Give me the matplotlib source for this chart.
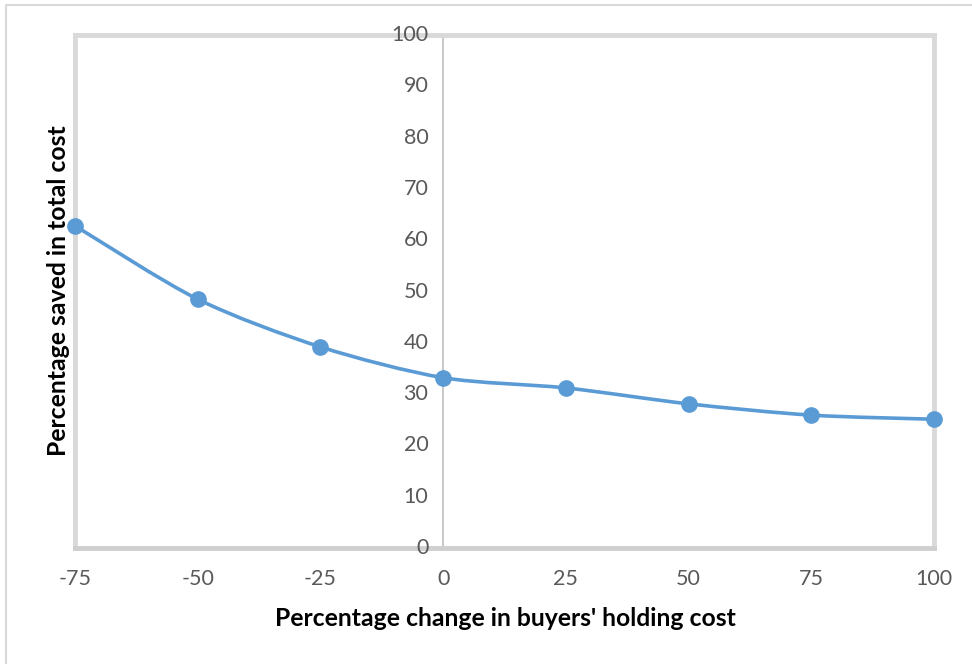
import numpy as np
import matplotlib.pyplot as plt
from matplotlib.path import Path
from matplotlib.patches import PathPatch
from matplotlib.lines import Line2D

plt.rcParams['font.family'] = ['Lato', 'DejaVu Sans']

# holding cost change (%) vs. saving in total cost (%)
change = [-75, -50, -25, 0, 25, 50, 75, 100]
saved = [62.8, 48.5, 39.2, 33.2, 31.2, 28.1, 25.9, 25.1]
xticks = [-75, -50, -25, 0, 25, 50, 75, 100]
yticks = [0, 10, 20, 30, 40, 50, 60, 70, 80, 90, 100]

blue = '#5b9bd5'
frame = '#d9d9d9'

fig = plt.figure(figsize=(9.72, 6.64), dpi=100)
ax = fig.add_axes([75/972, 1 - 548/664, 859/972, 513/664])
ax.set_xlim(-75, 100)
ax.set_ylim(0, 100)

# smooth line: cubic bezier segments with catmull-rom style tangents
x = np.array(change, dtype=float)
y = np.array(saved, dtype=float)
verts = [(x[0], y[0])]
codes = [Path.MOVETO]
for i in range(len(x) - 1):
    x0, y0 = (x[i-1], y[i-1]) if i > 0 else (x[i], y[i])
    x3, y3 = (x[i+2], y[i+2]) if i + 2 < len(x) else (x[i+1], y[i+1])
    c1 = (x[i] + (x[i+1] - x0) / 7, y[i] + (y[i+1] - y0) / 7)
    c2 = (x[i+1] - (x3 - x[i]) / 7, y[i+1] - (y3 - y[i]) / 7)
    verts += [c1, c2, (x[i+1], y[i+1])]
    codes += [Path.CURVE4] * 3
ax.add_patch(PathPatch(Path(verts, codes), facecolor='none', edgecolor=blue,
                       lw=2.6, capstyle='round', zorder=3, clip_on=False))
ax.plot(change, saved, 'o', color=blue, ms=11, zorder=4, clip_on=False)

# vertical axis sits at x = 0
ax.axvline(0, color='#bfbfbf', lw=1.2, zorder=2)

for s in ax.spines.values():
    s.set_color(frame)
    s.set_linewidth(3.5)
ax.spines['bottom'].set_color('#cfcfcf')

ax.set_xticks(xticks)
ax.set_xticklabels([str(t) for t in xticks])
ax.set_yticks([])
ax.tick_params(axis='x', length=0, pad=15, labelsize=15.5, labelcolor='#595959')
for t in yticks:
    ax.text(-3.0, t, str(t), ha='right', va='center', fontsize=15.5, color='#595959')

fig.text(505/972, 1 - 618/664, "Percentage change in buyers' holding cost",
         ha='center', va='center', fontsize=17.8, fontweight='bold')
fig.text(58/972, 1 - 291/664, 'Percentage saved in total cost', rotation=90,
         ha='center', va='center', fontsize=17.8, fontweight='bold')

# chart area border (left and top edges)
fig.add_artist(Line2D([6/972, 6/972, 1], [0, 1 - 5/664, 1 - 5/664],
                      transform=fig.transFigure, color='#d9d9d9', lw=1.5))

fig.savefig('out.png', dpi=100, facecolor='white')
